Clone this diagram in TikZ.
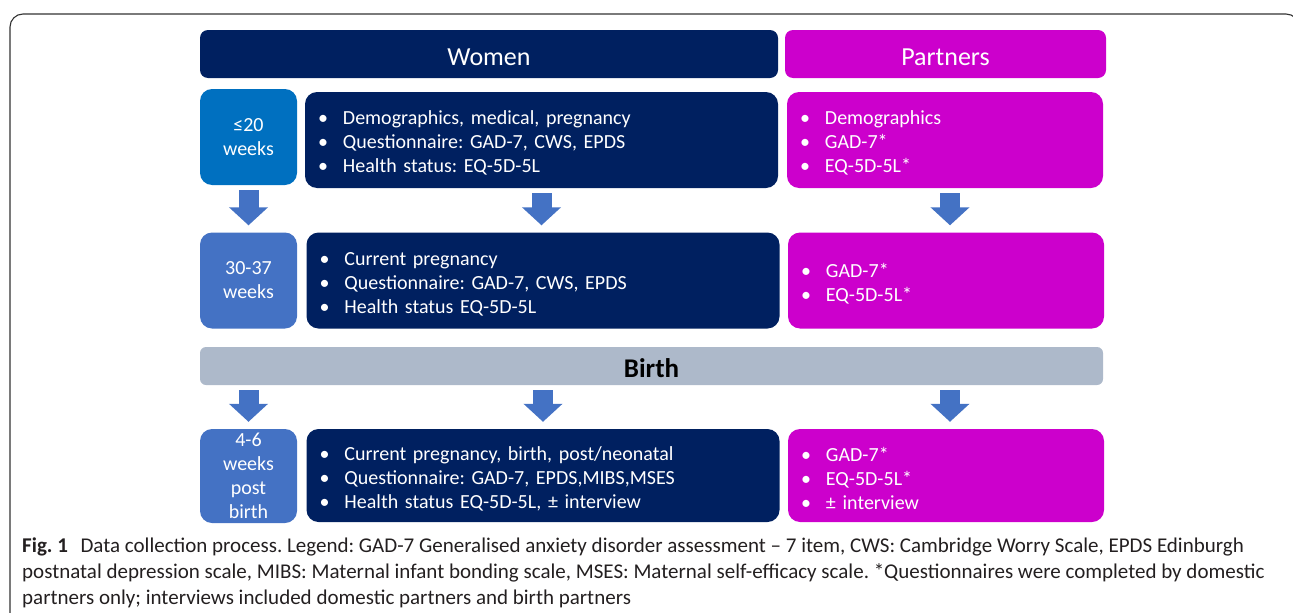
\documentclass[tikz,border=0pt]{standalone}
\usepackage{fontspec}
\setmainfont{Carlito}
\newfontfamily\capfont{Carlito}
\usetikzlibrary{arrows.meta}

\definecolor{navy}{HTML}{002060}
\definecolor{partnerpink}{HTML}{CC00CC}
\definecolor{earlyblue}{HTML}{0070C0}
\definecolor{stageblue}{HTML}{4472C4}
\definecolor{birthgrey}{HTML}{ADB9CA}
\definecolor{captiontext}{HTML}{231F20}
\definecolor{framegrey}{HTML}{333333}

\newcommand{\bul}[1]{\makebox[25pt][l]{•}#1}
\frenchspacing

\begin{document}
\begin{tikzpicture}[x=1pt,y=-1pt,
    header/.style={rounded corners=8pt,text=white,minimum height=48pt,inner sep=0pt,execute at begin node={\rule{0pt}{23pt}},font=\fontsize{26}{30}\selectfont},
    weekbox/.style={rounded corners=12pt,text=white,minimum width=97pt,minimum height=96pt,inner sep=0pt,execute at begin node={\rule{0pt}{21pt}},align=center,font=\fontsize{20}{24}\selectfont},
    listbox/.style={rounded corners=12pt,text=white,minimum height=96pt,inner xsep=13pt,inner ysep=0pt,execute at begin node={\rule{0pt}{20pt}},align=left,font=\fontsize{20}{24}\selectfont},
    womenbox/.style={listbox,fill=navy,text width=447pt},
    partnerbox/.style={listbox,fill=partnerpink,text width=290pt},
    blockarrow/.style={stageblue,line width=20pt,-{Triangle[width=38pt,length=18pt]},shorten <=5pt,shorten >=7pt}]

    \useasboundingbox (0,0) rectangle (1293,613);

    % Figure frame
    \draw [framegrey,line width=1.1pt,rounded corners=13pt] (10,630) -- (10,14) -- (1299,14) -- (1299,630);

    % Column headers
    \node [header,fill=navy,minimum width=578pt] (women) at (489,54) {Women};
    \node [header,fill=partnerpink,minimum width=321pt] (partners) at (945.5,54) {Partners};

    % First visit
    \node [weekbox,fill=earlyblue] (t1) at (248.5,137) {≤20\\weeks};
    \node [womenbox] (w1) at (541.5,140) {\bul{Demographics, medical, pregnancy}\\\bul{Questionnaire: GAD-7, CWS, EPDS}\\\bul{Health status: EQ-5D-5L}};
    \node [partnerbox] (p1) at (945,140) {\bul{Demographics}\\\bul{GAD-7*}\\\bul{EQ-5D-5L*}};

    % Second visit
    \node [weekbox,fill=stageblue] (t2) at (248.5,280.5) {30-37\\weeks};
    \node [womenbox] (w2) at (543,280.5) {\bul{Current pregnancy}\\\bul{Questionnaire: GAD-7, CWS, EPDS}\\\bul{Health status EQ-5D-5L}};
    \node [partnerbox] (p2) at (946,280.5) {\bul{GAD-7*}\\\bul{EQ-5D-5L*}};

    % Birth bar
    \node [fill=birthgrey,rounded corners=6pt,minimum width=903pt,minimum height=38pt,inner sep=0pt,execute at begin node={\rule{0pt}{23pt}},font=\fontsize{27}{30}\selectfont\bfseries] (birth) at (651.5,366) {Birth};

    % After birth
    \node [weekbox,fill=stageblue,minimum height=94pt] (t3) at (248.5,476) {4-6\\weeks\\post\\birth};
    \node [womenbox,minimum height=93pt] (w3) at (543,475.5) {\bul{Current pregnancy, birth, post/neonatal}\\\bul{Questionnaire: GAD-7, EPDS,MIBS,MSES}\\\bul{Health status EQ-5D-5L, ± interview}};
    \node [partnerbox,minimum height=93pt] (p3) at (946,475.5) {\bul{GAD-7*}\\\bul{EQ-5D-5L*}\\\bul{± interview}};

    % Block arrows
    \draw [blockarrow] (t1) -- (t2);
    \draw [blockarrow] (w1.south) -- (w1.south |- w2.north);
    \draw [blockarrow] ([xshift=5pt]p1.south) -- ([xshift=5pt]p1.south |- p2.north);
    \draw [blockarrow] (t3 |- birth.south) -- (t3.north);
    \draw [blockarrow] (w3 |- birth.south) -- (w3.north);
    \draw [blockarrow] ([xshift=4pt]p3.north |- birth.south) -- ([xshift=4pt]p3.north);

    % Caption
    \node [anchor=north west,inner sep=0pt,align=left,text=captiontext,font=\capfont\fontsize{21}{26}\selectfont] (caption) at (22,538)
        {\textbf{Fig. 1}\hspace{0.6em}Data collection process. Legend: GAD-7 Generalised anxiety disorder assessment – 7 item, CWS: Cambridge Worry Scale, EPDS Edinburgh\\
         postnatal depression scale, MIBS: Maternal infant bonding scale, MSES: Maternal self-efficacy scale. *Questionnaires were completed by domestic\\
         partners only; interviews included domestic partners and birth partners};

\end{tikzpicture}
\end{document}
